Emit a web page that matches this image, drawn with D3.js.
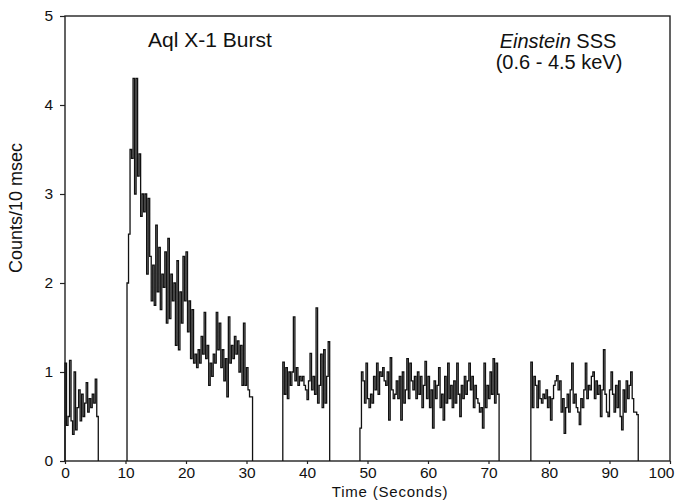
<!DOCTYPE html>
<html>
<head>
<meta charset="utf-8">
<script src="https://cdn.jsdelivr.net/npm/d3@7"></script>
<style>
  body { margin: 0; background: #fff; }
  svg text { font-family: "Liberation Sans", Arial, Helvetica, sans-serif; fill: #111; }
</style>
</head>
<body>
<div id="chart"></div>
<script>
// light curve, 0.25 s bins, one array per observing window
const binWidth = 0.25;

const segStarts = [0, 10.25, 36.0, 48.75, 77.0];

const seg1 = [1.1, 0.4, 0.5, 1.13, 0.45, 0.3, 1.0, 0.35, 0.6, 0.8, 0.45, 0.75, 0.5, 0.65, 0.88, 0.55,
    0.7, 0.6, 0.75, 0.65, 0.92, 0.5];

const seg2 = [2.0, 2.55, 3.5, 3.4, 4.3, 3.0, 4.3, 3.2, 3.45, 2.75, 3.0, 2.8, 3.0, 2.1, 2.95, 2.3,
    1.8, 2.2, 1.75, 2.65, 1.9, 2.4, 1.7, 2.1, 1.95, 2.35, 1.55, 2.5, 1.6, 2.1, 1.8, 2.0,
    1.3, 2.25, 1.25, 1.9, 1.55, 2.3, 1.8, 2.35, 1.45, 1.8, 1.15, 1.7, 1.1, 1.2, 1.05, 1.25,
    1.1, 1.4, 1.2, 1.67, 1.15, 1.3, 0.85, 1.1, 0.95, 1.2, 1.1, 1.67, 1.25, 1.55, 1.05, 1.25,
    0.9, 1.15, 0.72, 1.62, 1.1, 1.3, 1.15, 1.4, 1.2, 1.35, 1.0, 1.3, 0.85, 1.55, 0.85, 1.05,
    0.8, 0.72, 0.72];

const seg3 = [1.11, 0.75, 1.05, 0.7, 1.0, 0.85, 1.0, 1.62, 0.9, 1.05, 0.85, 0.95, 0.9, 0.95, 0.85, 0.8,
    0.69, 0.9, 1.21, 0.8, 0.95, 0.75, 1.72, 0.65, 0.85, 1.2, 0.6, 1.25, 0.65, 0.95, 1.34];

const seg4 = [0.37, 1.0, 0.9, 0.65, 1.1, 0.7, 0.6, 0.75, 0.65, 0.95, 0.8, 1.1, 0.75, 1.0, 0.95, 1.05,
    0.9, 0.85, 1.0, 0.46, 1.16, 0.8, 0.7, 0.75, 0.9, 0.7, 0.95, 0.46, 1.0, 0.65, 0.8, 1.15,
    0.7, 1.1, 0.9, 0.8, 0.95, 0.7, 1.0, 0.75, 0.95, 0.6, 0.85, 1.12, 0.7, 0.95, 0.6, 0.8,
    0.37, 0.9, 0.7, 0.85, 1.05, 0.6, 0.75, 0.46, 0.95, 0.65, 1.1, 0.7, 0.85, 0.6, 0.9, 0.65,
    1.1, 0.75, 0.5, 0.85, 0.7, 0.95, 0.75, 0.9, 1.1, 0.8, 0.95, 0.6, 0.85, 0.7, 0.65, 0.55,
    0.6, 0.37, 1.1, 0.6, 0.85, 0.7, 1.0, 0.75, 1.15, 0.65, 1.1, 0.75];

const seg5 = [1.11, 0.6, 0.95, 0.85, 0.6, 0.9, 0.7, 0.65, 0.75, 0.7, 0.8, 0.6, 0.72, 0.46, 0.7, 0.85,
    0.9, 0.96, 0.8, 0.9, 0.55, 0.7, 0.31, 0.6, 0.75, 0.55, 0.8, 1.1, 0.65, 0.75, 0.6, 0.55,
    0.41, 0.7, 0.6, 0.8, 1.1, 0.7, 0.85, 0.8, 0.95, 1.0, 0.7, 0.9, 0.75, 0.85, 0.5, 0.8,
    1.25, 0.75, 0.55, 0.5, 0.8, 1.0, 0.75, 0.55, 0.85, 0.6, 0.9, 0.5, 0.35, 0.8, 0.55, 0.9,
    0.7, 0.85, 1.0, 0.7, 0.55, 0.55, 0.52];

const segments = [seg1, seg2, seg3, seg4, seg5];

const xTicks = [0, 10, 20, 30, 40, 50, 60, 70, 80, 90, 100];
const yTicks = [0, 1, 2, 3, 4, 5];

const width = 678;
const height = 500;
const margin = {top: 16, right: 8, bottom: 39, left: 65};

const svg = d3.select("#chart")
    .append("svg")
    .attr("width", width)
    .attr("height", height);

const x = d3.scaleLinear().domain([0, 100]).range([margin.left, width - margin.right]);
const y = d3.scaleLinear().domain([0, 5]).range([height - margin.bottom, margin.top]);

// frame
svg.append("rect")
    .attr("x", x(0))
    .attr("y", y(5))
    .attr("width", x(100) - x(0))
    .attr("height", y(0) - y(5))
    .attr("fill", "none")
    .attr("stroke", "#222")
    .attr("stroke-width", 1.4);

// axes
const xAxis = svg.append("g")
    .attr("transform", `translate(0,${y(0)})`)
    .call(d3.axisBottom(x).tickValues(xTicks).tickFormat(d3.format("d")).tickSize(3).tickPadding(3));

const yAxis = svg.append("g")
    .attr("transform", `translate(${x(0)},0)`)
    .call(d3.axisLeft(y).tickValues(yTicks).tickFormat(d3.format("d")).tickSize(5).tickPadding(7));

[xAxis, yAxis].forEach(function(g) {
    g.select(".domain").remove();
    g.selectAll(".tick line").attr("stroke", "#222").attr("stroke-width", 1.2);
    g.selectAll(".tick text")
        .attr("fill", "#000")
        .style("font-size", "15.5px")
        .style("font-family", "'Liberation Sans', Arial, sans-serif");
});

// last x label sits inside the page, as in the original
xAxis.selectAll(".tick text").filter(function(d) { return d === 100; }).attr("dx", -9);

// step curves
const line = d3.line()
    .x(function(d) { return x(d[0]); })
    .y(function(d) { return y(d[1]); })
    .curve(d3.curveStepAfter);

segments.forEach(function(vals, k) {
    const t0 = segStarts[k];
    const pts = [[t0, 0]];
    vals.forEach(function(v, i) { pts.push([t0 + i * binWidth, v]); });
    pts.push([t0 + vals.length * binWidth, 0]);

    svg.append("path")
        .attr("d", line(pts))
        .attr("fill", "none")
        .attr("stroke", "#111")
        .attr("stroke-width", 1.3)
        .attr("stroke-linejoin", "miter");
});

// labels
svg.append("text")
    .attr("x", 148)
    .attr("y", 47)
    .style("font-size", "21px")
    .text("Aql X-1 Burst");

const inst = svg.append("text")
    .attr("x", 558)
    .attr("y", 48)
    .attr("text-anchor", "middle")
    .style("font-size", "20px");
inst.append("tspan").style("font-style", "italic").text("Einstein");
inst.append("tspan").text(" SSS");

svg.append("text")
    .attr("x", 559)
    .attr("y", 69)
    .attr("text-anchor", "middle")
    .style("font-size", "20px")
    .text("(0.6 - 4.5 keV)");

svg.append("text")
    .attr("x", 390)
    .attr("y", 497)
    .attr("text-anchor", "middle")
    .style("font-size", "15px")
    .style("letter-spacing", "0.8px")
    .text("Time (Seconds)");

svg.append("text")
    .attr("transform", "translate(22,208) rotate(-90)")
    .attr("text-anchor", "middle")
    .style("font-size", "18px")
    .text("Counts/10 msec");
</script>
</body>
</html>
